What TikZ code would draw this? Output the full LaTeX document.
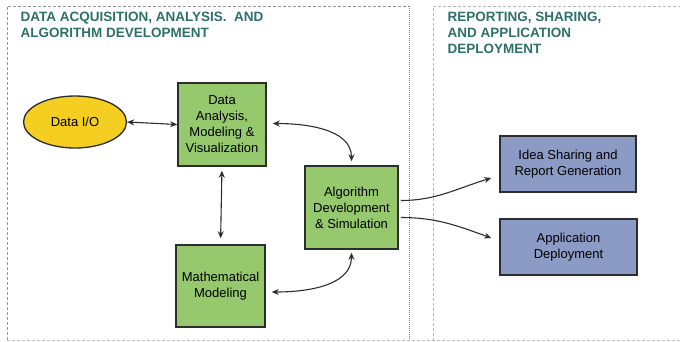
\documentclass[tikz,border=0pt]{standalone}
\usepackage{fontspec}
\setmainfont{Liberation Sans}
\usetikzlibrary{positioning, arrows.meta, shapes.geometric}
\definecolor{HeadColor}{RGB}{45,112,104}
\definecolor{BoxGreen}{RGB}{150,200,110}
\definecolor{BoxBlue}{RGB}{140,155,198}
\definecolor{IOYellow}{RGB}{244,206,32}
\definecolor{EdgeColor}{RGB}{45,45,45}
\definecolor{FrameColor}{RGB}{150,150,150}
\newcommand{\headtext}[1]{\textcolor{HeadColor}{\textbf{#1}}}
\tikzstyle{arrow} = [line width=1.1pt, EdgeColor, -{Stealth[length=7pt,width=6pt]}]
\tikzstyle{twoway} = [line width=1.1pt, EdgeColor, {Stealth[length=7pt,width=6pt]}-{Stealth[length=7pt,width=6pt]}]
\tikzset{
  stagebox/.style={rectangle, draw=EdgeColor, line width=1.5pt, fill=BoxGreen, align=center,
    font=\fontsize{13}{16}\selectfont, inner sep=1pt},
  outbox/.style={rectangle, draw=EdgeColor, line width=1.5pt, fill=BoxBlue, align=center,
    font=\fontsize{13}{16}\selectfont, inner sep=1pt},
  iobubble/.style={ellipse, draw=EdgeColor, line width=1.3pt, fill=IOYellow,
    font=\fontsize{13}{16}\selectfont, inner sep=0pt},
  heading/.style={anchor=north west, align=left, font=\fontsize{13.5}{16}\selectfont},
  panel/.style={FrameColor, densely dashed, line width=0.6pt}
}
\begin{document}
\begin{tikzpicture}[x=1pt, y=-1pt]
  \useasboundingbox (0,0) rectangle (680,341);

  % Panels
  \draw[panel] (7,340) -- (7,6) -- (409,6);
  \draw[FrameColor!80!black, densely dotted, line width=1pt] (409,6) -- (409,341);
  \draw[panel, FrameColor!70] (433,341) -- (433,6) -- (680,6);
  \draw[panel, FrameColor!60] (7,340) -- (680,340);

  % Headings
  \node[heading] (headleft) at (17,9) {\headtext{DATA ACQUISITION, ANALYSIS.\ \ AND}\\\headtext{ALGORITHM DEVELOPMENT}};
  \node[heading] (headright) at (444,9) {\headtext{REPORTING, SHARING,}\\\headtext{AND APPLICATION}\\\headtext{DEPLOYMENT}};

  % Data input / output
  \node[iobubble, minimum width=103pt, minimum height=52pt] (dio) at (75,122) {Data I/O};

  % Analysis and modeling
  \node[stagebox, minimum width=88pt, minimum height=83pt] (analysis) at (222,124.5) {Data\\Analysis,\\Modeling \&\\Visualization};
  \node[stagebox, minimum width=89pt, minimum height=82pt] (mathmod) at (220.5,286) {Mathematical\\Modeling};
  \node[stagebox, minimum width=93pt, minimum height=83pt] (algo) at (351.5,207.5) {Algorithm\\Development\\\& Simulation};

  % Outputs
  \node[outbox, minimum width=136pt, minimum height=56pt] (sharing) at (568,164) {Idea Sharing and\\Report Generation};
  \node[outbox, minimum width=137pt, minimum height=56pt] (deploy) at (568.5,247) {Application\\Deployment};

  % Links
  \draw[twoway] (dio.east) -- (analysis.west);
  \draw[twoway, shorten <=4pt, shorten >=6pt] (analysis.south) -- (mathmod.north);
  \draw[twoway, shorten <=6pt, shorten >=4pt] ([yshift=1pt]analysis.east) to[out=0, in=90] (algo.north);
  \draw[twoway, shorten <=6pt, shorten >=3pt] ([yshift=-6pt]mathmod.east) to[out=0, in=-90] (algo.south);
  \draw[arrow, shorten <=2pt] ([yshift=7pt]algo.east) to[out=0, in=197] ([xshift=-8pt, yshift=-14pt]sharing.west);
  \draw[arrow, shorten <=2pt] ([yshift=-10pt]algo.east) to[out=0, in=160] ([xshift=-8pt, yshift=9pt]deploy.west);
\end{tikzpicture}
\end{document}
